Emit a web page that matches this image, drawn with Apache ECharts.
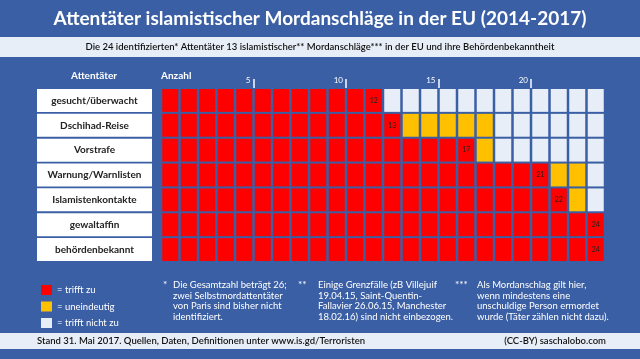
<!DOCTYPE html>
<html>
<head>
<meta charset="utf-8">
<script src="https://cdn.jsdelivr.net/npm/echarts@6/dist/echarts.min.js"></script>
<style>
html,body{margin:0;padding:0;background:#3a5fa5;}
#c{width:640px;height:359px;}
</style>
</head>
<body>
<div id="c"></div>
<script>
// ---- data ----
const rowNames = ['gesucht/überwacht','Dschihad-Reise','Vorstrafe','Warnung/Warnlisten','Islamistenkontakte','gewaltaffin','behördenbekannt'];
const trifftZu = [12,13,17,21,22,24,24];
const uneindeutig = [0,5,1,2,1,0,0];
const totalAttentaeter = 24;
const tickValues = [5,10,15,20];
const legendNames = ['= trifft zu','= uneindeutig','= trifft nicht zu'];

const titleText = 'Attentäter islamistischer Mordanschläge in der EU (2014-2017)';
const subtitleText = 'Die 24 identifizierten* Attentäter 13 islamistischer** Mordanschläge*** in der EU und ihre Behördenbekanntheit';
const note1 = 'Die Gesamtzahl beträgt 26;\nzwei Selbstmordattentäter\nvon Paris sind bisher nicht\nidentifiziert.';
const note2 = 'Einige Grenzfälle (zB Villejuif\n19.04.15, Saint-Quentin-\nFallavier 26.06.15, Manchester\n18.02.16) sind nicht einbezogen.';
const note3 = 'Als Mordanschlag gilt hier,\nwenn mindestens eine\nunschuldige Person ermordet\nwurde (Täter zählen nicht dazu).';
const footerLeft = 'Stand 31. Mai 2017. Quellen, Daten, Definitionen unter www.is.gd/Terroristen';
const footerRight = '(CC-BY) saschalobo.com';

// ---- build cells ----
const redData = [], yellowData = [], lightData = [];
rowNames.forEach((n, r) => {
  for (let c = 1; c <= totalAttentaeter; c++) {
    if (c <= trifftZu[r]) redData.push([c, r, c === trifftZu[r] ? String(c) : '']);
    else if (c <= trifftZu[r] + uneindeutig[r]) yellowData.push([c, r, '']);
    else lightData.push([c, r, '']);
  }
});

const colors = ['#ff0000', '#ffc000', '#e8eef8'];

function makeRender(color) {
  return function (params, api) {
    const c = api.value(0), r = api.value(1);
    const lbl = api.value(2);
    const left = api.coord([c - 1, r]);
    const size = api.size([1, 1]);
    const w = size[0] - 2.5, h = size[1] - 2;
    const x = left[0] + 1.25, y = left[1] - h / 2;
    const children = [{ type: 'rect', shape: { x: x, y: y, width: w, height: h }, style: { fill: color } }];
    if (lbl) {
      children.push({ type: 'text', style: { text: lbl, x: x + w / 2, y: y + h / 2, align: 'center', verticalAlign: 'middle', fill: '#222', font: '7px Lato' } });
    }
    return { type: 'group', children: children };
  };
}

const chart = echarts.init(document.getElementById('c'), null, { renderer: 'canvas' });
const font = 'Lato';
chart.setOption({
  backgroundColor: '#3a5fa5',
  animation: false,
  grid: { left: 161, right: 35, top: 88, height: 174 },
  xAxis: {
    type: 'value', position: 'top', min: 0, max: totalAttentaeter,
    axisLine: { show: false }, splitLine: { show: false },
    axisTick: { show: true, customValues: tickValues, length: 9, lineStyle: { color: '#c9d5ec', width: 2 } },
    axisLabel: { customValues: tickValues, color: '#fff', fontSize: 8, fontFamily: font, align: 'right', margin: 4, padding: [0, 3, 0, 0] }
  },
  yAxis: {
    type: 'category', inverse: true, data: rowNames,
    axisLine: { show: false }, axisTick: { show: false },
    axisLabel: {
      margin: 9,
      formatter: v => '{b|' + v + '}',
      rich: { b: { width: 115, height: 23, lineHeight: 23, align: 'center', backgroundColor: '#ffffff', color: '#222', fontSize: 10, fontWeight: 'bold', fontFamily: font } }
    }
  },
  legend: {
    orient: 'vertical', left: 36, top: 280, itemWidth: 11, itemHeight: 10, itemGap: 6.5,
    icon: 'rect', data: legendNames,
    textStyle: { color: '#fff', fontSize: 9.5, fontFamily: font, lineHeight: 10, padding: [0, 0, 0, 0] },
    itemStyle: { borderWidth: 0 }
  },
  series: [
    { name: legendNames[0], type: 'custom', renderItem: makeRender(colors[0]), data: redData, itemStyle: { color: colors[0] }, encode: { x: 0, y: 1 } },
    { name: legendNames[1], type: 'custom', renderItem: makeRender(colors[1]), data: yellowData, itemStyle: { color: colors[1] }, encode: { x: 0, y: 1 } },
    { name: legendNames[2], type: 'custom', renderItem: makeRender(colors[2]), data: lightData, itemStyle: { color: colors[2] }, encode: { x: 0, y: 1 } }
  ],
  graphic: [
    { type: 'rect', shape: { x: 0, y: 37, width: 640, height: 20 }, style: { fill: '#e8eef8' }, z: -1 },
    { type: 'rect', shape: { x: 0, y: 333, width: 640, height: 16 }, style: { fill: '#e8eef8' }, z: -1 },
    { type: 'text', style: { text: titleText, x: 320, y: 19, align: 'center', verticalAlign: 'middle', fill: '#fff', font: 'bold 19px Lato' } },
    { type: 'text', style: { text: subtitleText, x: 320, y: 47, align: 'center', verticalAlign: 'middle', fill: '#111', font: '600 9.5px Lato' } },
    { type: 'text', style: { text: 'Attentäter', x: 94, y: 76, align: 'center', verticalAlign: 'middle', fill: '#fff', font: 'bold 10px Lato' } },
    { type: 'text', style: { text: 'Anzahl', x: 161, y: 76, align: 'left', verticalAlign: 'middle', fill: '#fff', font: 'bold 10px Lato' } },
    { type: 'text', style: { text: '*', x: 163, y: 280, align: 'left', verticalAlign: 'top', fill: '#fff', font: '10px Lato' } },
    { type: 'text', style: { text: note1, x: 173, y: 280, align: 'left', verticalAlign: 'top', fill: '#fff', font: '9.5px Lato', lineHeight: 10.5 } },
    { type: 'text', style: { text: '**', x: 298, y: 280, align: 'left', verticalAlign: 'top', fill: '#fff', font: '10px Lato' } },
    { type: 'text', style: { text: note2, x: 318, y: 280, align: 'left', verticalAlign: 'top', fill: '#fff', font: '9.5px Lato', lineHeight: 10.5 } },
    { type: 'text', style: { text: '***', x: 455, y: 280, align: 'left', verticalAlign: 'top', fill: '#fff', font: '10px Lato' } },
    { type: 'text', style: { text: note3, x: 477, y: 280, align: 'left', verticalAlign: 'top', fill: '#fff', font: '9.5px Lato', lineHeight: 10.5 } },
    { type: 'text', style: { text: footerLeft, x: 37, y: 341, align: 'left', verticalAlign: 'middle', fill: '#111', font: '600 9.5px Lato' } },
    { type: 'text', style: { text: footerRight, x: 606, y: 341, align: 'right', verticalAlign: 'middle', fill: '#111', font: '600 9.5px Lato' } }
  ]
});
</script>
</body>
</html>
